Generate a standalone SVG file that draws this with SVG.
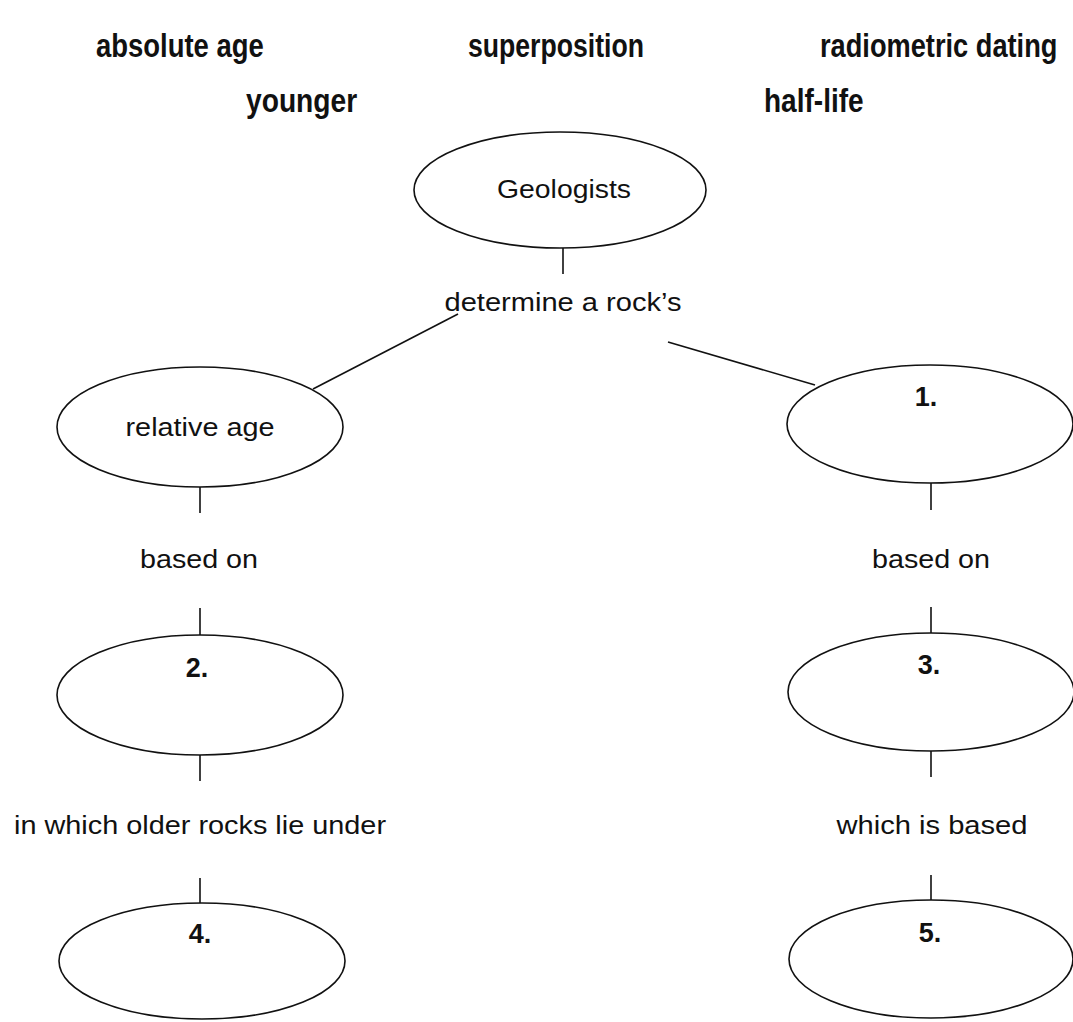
<svg xmlns="http://www.w3.org/2000/svg" width="1073" height="1022" viewBox="0 0 1073 1022">
<style>
.bg{fill:#ffffff}
.node ellipse{fill:#ffffff;stroke:#111111;stroke-width:1.6}
.conn line{stroke:#111111;stroke-width:1.6}
.lbl{font-family:"Liberation Sans",Arial,Helvetica,sans-serif;font-size:25px;fill:#111111;text-anchor:middle}
.num{font-family:"Liberation Sans",Arial,Helvetica,sans-serif;font-size:27px;font-weight:bold;fill:#111111;text-anchor:middle}
.bank{font-family:"Liberation Sans",Arial,Helvetica,sans-serif;font-size:33px;font-weight:bold;fill:#111111;text-anchor:start}
</style>
<rect class="bg" x="0" y="0" width="1073" height="1022"/>
<g id="word-bank">
<text class="bank" transform="translate(96,57) scale(0.83,1)" x="0" y="0" textLength="202" lengthAdjust="spacingAndGlyphs">absolute age</text>
<text class="bank" transform="translate(468,57) scale(0.83,1)" x="0" y="0" textLength="212" lengthAdjust="spacingAndGlyphs">superposition</text>
<text class="bank" transform="translate(820,57) scale(0.83,1)" x="0" y="0" textLength="286" lengthAdjust="spacingAndGlyphs">radiometric dating</text>
<text class="bank" transform="translate(246,112) scale(0.83,1)" x="0" y="0" textLength="134" lengthAdjust="spacingAndGlyphs">younger</text>
<text class="bank" transform="translate(764,112) scale(0.83,1)" x="0" y="0" textLength="120" lengthAdjust="spacingAndGlyphs">half-life</text>
</g>
<g id="connectors" class="conn">
<line x1="563" y1="248" x2="563" y2="274"/>
<line x1="458" y1="314" x2="313" y2="389"/>
<line x1="668" y1="342" x2="815" y2="385"/>
<line x1="200" y1="487" x2="200" y2="513"/>
<line x1="200" y1="608" x2="200" y2="635"/>
<line x1="200" y1="755" x2="200" y2="781"/>
<line x1="200" y1="878" x2="200" y2="903"/>
<line x1="931" y1="483" x2="931" y2="510"/>
<line x1="931" y1="607" x2="931" y2="633"/>
<line x1="931" y1="750" x2="931" y2="777"/>
<line x1="931" y1="875" x2="931" y2="900"/>
</g>
<g id="link-labels">
<text class="lbl" x="563" y="311" textLength="237" lengthAdjust="spacingAndGlyphs">determine a rock’s</text>
<text class="lbl" x="199" y="568" textLength="118" lengthAdjust="spacingAndGlyphs">based on</text>
<text class="lbl" x="931" y="568" textLength="118" lengthAdjust="spacingAndGlyphs">based on</text>
<text class="lbl" x="200" y="834" textLength="372" lengthAdjust="spacingAndGlyphs">in which older rocks lie under</text>
<text class="lbl" x="932" y="834" textLength="191" lengthAdjust="spacingAndGlyphs">which is based</text>
</g>
<g id="node-geologists" class="node">
<ellipse cx="560" cy="190" rx="146" ry="58"/>
<text class="lbl" x="564" y="198" textLength="134" lengthAdjust="spacingAndGlyphs">Geologists</text>
</g>
<g id="node-relative-age" class="node">
<ellipse cx="200" cy="427" rx="143" ry="60"/>
<text class="lbl" x="200" y="436" textLength="149" lengthAdjust="spacingAndGlyphs">relative age</text>
</g>
<g id="node-1" class="node">
<ellipse cx="930" cy="424" rx="143" ry="59"/>
<text class="num" x="926" y="406">1.</text>
</g>
<g id="node-2" class="node">
<ellipse cx="200" cy="695" rx="143" ry="60"/>
<text class="num" x="197" y="677">2.</text>
</g>
<g id="node-3" class="node">
<ellipse cx="931" cy="692" rx="143" ry="59"/>
<text class="num" x="929" y="674">3.</text>
</g>
<g id="node-4" class="node">
<ellipse cx="202" cy="961" rx="143" ry="58"/>
<text class="num" x="200" y="943">4.</text>
</g>
<g id="node-5" class="node">
<ellipse cx="931" cy="959" rx="142" ry="59"/>
<text class="num" x="930" y="942">5.</text>
</g>
</svg>
